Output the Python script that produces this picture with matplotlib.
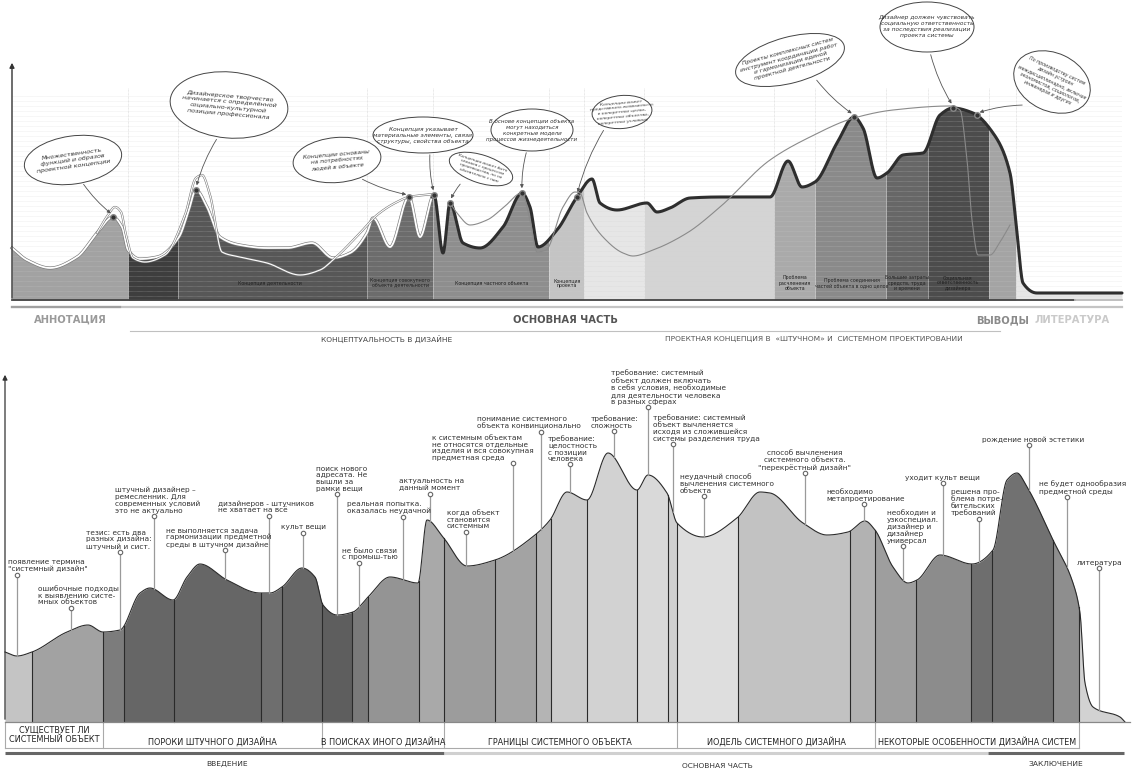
import matplotlib.pyplot as plt
import numpy as np
from matplotlib.patches import Ellipse

plt.rcParams['font.family'] = ['DejaVu Sans']

# ---------------- upper chart: profile (x, height above base line) ----------------
top_x = [12, 27, 50, 77, 97, 113, 122, 128, 140, 157, 179, 188, 196, 207, 220, 240, 267, 287, 312,
         333, 350, 367, 373, 390, 409, 420, 434, 443, 450, 463, 480, 503, 522, 530, 538, 557, 577,
         592, 600, 617, 647, 657, 670, 690, 720, 770, 788, 802, 815, 837, 854, 863, 877, 887, 903,
         923, 940, 953, 973, 993, 1010, 1017, 1023, 1037, 1060, 1122]
top_h = [52, 40, 32, 43, 67, 83, 73, 50, 41, 43, 63, 87, 110, 93, 63, 55, 52, 52, 57,
         42, 47, 67, 82, 53, 103, 63, 105, 47, 97, 57, 52, 73, 107, 93, 53, 70, 103,
         121, 97, 90, 97, 88, 92, 102, 103, 103, 139, 113, 118, 157, 183, 172, 122, 127, 145,
         147, 185, 192, 187, 167, 127, 67, 17, 7, 7, 7]

top_edges = [12, 128, 178, 367, 433, 549, 584, 644, 774, 815, 886, 928, 989, 1016, 1123]
top_colors = ['#a2a2a2', '#3e3e3e', '#575757', '#6c6c6c', '#8e8e8e', '#c4c4c4', '#e6e6e6',
              '#d4d4d4', '#aaaaaa', '#8a8a8a', '#676767', '#4c4c4c', '#a4a4a4', '#e6e6e6']

top_band_labels = ['Концепция деятельности', 'Концепция совокупного\nобъекта деятельности',
                   'Концепция частного объекта', 'Концепция\nпроекта', 'Проблема\nрасчленения\nобъекта',
                   'Проблема соединения\nчастей объекта в одно целое', 'Большие затраты\nсредств, труда\nи времени',
                   'Социальная\nответственность\nдизайнера']
top_band_label_x = [270, 400, 492, 567, 795, 852, 907, 958]

# thin guide curves
guide1_x = [97, 108, 115, 121, 126, 133, 145, 165, 185, 196, 202, 210, 222, 240, 267, 300, 320, 333,
            360, 377, 395, 409, 434]
guide1_h = [67, 85, 93, 88, 65, 42, 38, 45, 85, 122, 125, 105, 48, 43, 37, 25, 30, 40,
            67, 85, 97, 103, 106]
guide2_x = [450, 457, 470, 487, 503, 522, 530, 537, 546, 563, 575, 580, 587, 603, 623, 633, 653,
            687, 720, 770, 810, 854, 893, 950, 960, 967, 972, 978, 990, 1000, 1010]
guide2_h = [97, 87, 75, 80, 92, 107, 80, 48, 50, 93, 108, 107, 87, 63, 47, 44, 50,
            67, 93, 140, 163, 182, 190, 194, 190, 140, 80, 45, 45, 58, 75]

# speech bubbles
bubble_text = ['Множественность\nфункций и образов\nпроектной концепции',
               'Дизайнерское творчество\nначинается с определённой\nсоциально-культурной\nпозиции профессионала',
               'Концепции основаны\nна потребностях\nлюдей в объекте',
               'Концепция указывает\nматериальные элементы, связи,\nструктуры, свойства объекта',
               'Концепция может быть\nсвязана с процессом\nпроизводства, но не\nобязательно с ним',
               'В основе концепции объекта\nмогут находиться\nконкретные модели\nпроцессов жизнедеятельности',
               'Концепция может\nпредставлять возможность\nв конкретных целях,\nконкретных объектах,\nконкретных условиях',
               'Проекты комплексных систем\nинструмент координации работ\nи гармонизации единой\nпроектной деятельности',
               'Дизайнер должен чувствовать\nсоциальную ответственность\nза последствия реализации\nпроекта системы',
               'По производству систем\nдизайн устроен\nмеждисциплинарно, включая\nэкономистов, социологов,\nинженеров и других']
bubble_x = [73, 229, 337, 423, 481, 532, 622, 790, 927, 1052]
bubble_y = [140, 195, 140, 165, 131, 170, 188, 240, 273, 218]
bubble_w = [98, 118, 88, 100, 66, 82, 60, 112, 94, 80]
bubble_ht = [48, 66, 45, 36, 28, 42, 33, 46, 50, 58]
bubble_rot = [8, -5, 5, 0, -18, 0, 5, 15, 0, -25]
bubble_fs = [4.6, 4.6, 4.2, 4.2, 3.0, 4.0, 3.2, 4.2, 4.2, 3.4]
leader_x0 = [82, 218, 360, 430, 462, 527, 605, 815, 930, 1025]
leader_y0 = [118, 163, 122, 148, 118, 150, 172, 222, 248, 195]
marker_x = [113, 196, 409, 434, 450, 522, 577, 854, 953, 977]

# ---------------- lower chart ----------------
bot_x = [5, 17, 32, 67, 88, 103, 120, 140, 150, 173, 187, 200, 227, 260, 270, 282, 302, 315, 323,
         337, 353, 368, 390, 418, 427, 443, 467, 495, 535, 550, 567, 587, 608, 637, 648, 667, 677,
         703, 737, 760, 770, 803, 827, 848, 865, 875, 893, 908, 917, 940, 972, 993, 1007, 1017,
         1027, 1053, 1073, 1080, 1085, 1093, 1120, 1125]
bot_h = [70, 66, 70, 90, 97, 90, 92, 129, 134, 122, 145, 158, 142, 129, 129, 135, 154, 145, 117,
         107, 110, 125, 145, 139, 202, 185, 156, 162, 187, 202, 230, 222, 269, 232, 247, 229, 199,
         185, 204, 230, 229, 199, 187, 190, 201, 192, 155, 139, 142, 167, 158, 172, 242, 249,
         235, 182, 139, 109, 39, 15, 5, 0]

bot_edges = [5, 32, 103, 124, 174, 261, 282, 322, 352, 368, 419, 444, 495, 536, 551, 587, 637, 668,
             677, 738, 850, 875, 916, 971, 992, 1053, 1079, 1125]
bot_colors = ['#c4c4c4', '#a2a2a2', '#7c7c7c', '#666666', '#666666', '#6e6e6e', '#666666', '#5e5e5e',
              '#7a7a7a', '#949494', '#a9a9a9', '#9c9c9c', '#a3a3a3', '#b4b4b4', '#cbcbcb', '#d2d2d2',
              '#d9d9d9', '#d0d0d0', '#dedede', '#c2c2c2', '#b2b2b2', '#9e9e9e', '#8c8c8c', '#6e6e6e',
              '#717171', '#8e8e8e', '#d2d2d2']

note_text = ['появление термина\n"системный дизайн"',
             'ошибочные подходы\nк выявлению систе-\nмных объектов',
             'тезис: есть два\nразных дизайна:\nштучный и сист.',
             'штучный дизайнер –\nремесленник. Для\nсовременных условий\nэто не актуально',
             'не выполняется задача\nгармонизации предметной\nсреды в штучном дизайне',
             'дизайнеров - штучников\nне хватает на всё',
             'культ вещи',
             'поиск нового\nадресата. Не\nвышли за\nрамки вещи',
             'реальная попытка.\nоказалась неудачной',
             'не было связи\nс промыш-тью',
             'актуальность на\nданный момент',
             'когда объект\nстановится\nсистемным',
             'к системным объектам\nне относятся отдельные\nизделия и вся совокупная\nпредметная среда',
             'понимание системного\nобъекта конвинционально',
             'требование:\nцелостность\nс позиции\nчеловека',
             'требование:\nсложность',
             'требование: системный\nобъект должен включать\nв себя условия, необходимые\nдля деятельности человека\nв разных сферах',
             'требование: системный\nобъект вычленяется\nисходя из сложившейся\nсистемы разделения труда',
             'неудачный способ\nвычленения системного\nобъекта',
             'способ вычленения\nсистемного объекта.\n"перекрёстный дизайн"',
             'необходимо\nметапроетирование',
             'необходин и\nузкоспециал.\nдизайнер и\nдизайнер\nуниверсал',
             'уходит культ вещи',
             'решена про-\nблема потре-\nбительских\nтребований',
             'рождение новой эстетики',
             'не будет однообразия\nпредметной среды',
             'литература']
note_x = [17, 71, 120, 154, 225, 269, 303, 337, 403, 359, 430, 466, 513, 541, 570, 614, 648, 673,
          704, 805, 864, 903, 943, 979, 1029, 1067, 1099]
note_h = [147, 114, 170, 206, 172, 206, 189, 228, 205, 159, 228, 190, 259, 290, 258, 291, 315, 278,
          226, 249, 218, 176, 239, 203, 277, 225, 154]
note_label_x = [8, 38, 86, 115, 166, 218, 281, 316, 347, 342, 399, 447, 432, 477, 548, 591, 611,
                653, 680, 805, 826, 887, 905, 951, 982, 1039, 1077]

section_labels = ['СУЩЕСТВУЕТ ЛИ\nСИСТЕМНЫЙ ОБЪЕКТ', 'ПОРОКИ ШТУЧНОГО ДИЗАЙНА', 'В ПОИСКАХ ИНОГО ДИЗАЙНА',
                  'ГРАНИЦЫ СИСТЕМНОГО ОБЪЕКТА', 'ИОДЕЛЬ СИСТЕМНОГО ДИЗАЙНА',
                  'НЕКОТОРЫЕ ОСОБЕННОСТИ ДИЗАЙНА СИСТЕМ']
section_edges = [5, 103, 322, 444, 677, 875, 1079]
section_label_x = [54, 212, 383, 560, 776, 977]


def pchip(x, y, xs):
    x = np.asarray(x, float)
    y = np.asarray(y, float)
    hk = np.diff(x)
    d = np.diff(y) / hk
    m = np.zeros_like(y)
    for k in range(1, len(x) - 1):
        if d[k - 1] * d[k] > 0:
            w1 = 2 * hk[k] + hk[k - 1]
            w2 = hk[k] + 2 * hk[k - 1]
            m[k] = (w1 + w2) / (w1 / d[k - 1] + w2 / d[k])
    m[0], m[-1] = d[0], d[-1]
    i = np.clip(np.searchsorted(x, xs) - 1, 0, len(x) - 2)
    t = (xs - x[i]) / hk[i]
    return ((2 * t**3 - 3 * t**2 + 1) * y[i] + (t**3 - 2 * t**2 + t) * hk[i] * m[i]
            + (-2 * t**3 + 3 * t**2) * y[i + 1] + (t**3 - t**2) * hk[i] * m[i + 1])


fig = plt.figure(figsize=(11.34, 7.69), dpi=100)
ax1 = fig.add_axes([0, 1 - 345 / 769, 1, 345 / 769])
ax2 = fig.add_axes([0, 0, 1, 424 / 769])
ax1.set_xlim(0, 1134)
ax1.set_ylim(-45, 300)
ax2.set_xlim(0, 1134)
ax2.set_ylim(-47, 377)
for a in (ax1, ax2):
    a.axis('off')

# ===================== upper chart =====================
xs = np.linspace(top_x[0], top_x[-1], 3000)
ys = pchip(top_x, top_h, xs)
for i, c in enumerate(top_colors):
    m = (xs >= top_edges[i]) & (xs <= top_edges[i + 1])
    ax1.fill_between(xs[m], 0, ys[m], color=c, lw=0, zorder=2)

# notebook-like ruling
for yy in np.arange(4, 205, 5):
    ax1.plot([12, 1122], [yy, yy], color='#cfcfcf', lw=0.4, ls=(0, (1, 1)), alpha=0.6, zorder=3)
for xv in top_edges[1:-1]:
    ax1.plot([xv, xv], [0, 212], color='#d5d5d5', lw=0.5, ls=(0, (1, 1)), zorder=1)

for lab, lx in zip(top_band_labels, top_band_label_x):
    ax1.text(lx, 17, lab, ha='center', va='center', fontsize=3.4, color='#222', zorder=6,
             linespacing=1.1)

# outline: thin white on the left, thick dark afterwards
left = xs <= 434
ax1.plot(xs[left], ys[left], color='#777', lw=2.2, zorder=4)
ax1.plot(xs[left], ys[left], color='white', lw=1.3, zorder=4)
ax1.plot(xs[xs >= 432], ys[xs >= 432], color='#2e2e2e', lw=2.2, zorder=5, solid_capstyle='round')

g1x = np.linspace(guide1_x[0], guide1_x[-1], 600)
ax1.plot(g1x, pchip(guide1_x, guide1_h, g1x), color='#777', lw=1.6, zorder=4)
ax1.plot(g1x, pchip(guide1_x, guide1_h, g1x), color='white', lw=0.8, zorder=4)
g2x = np.linspace(guide2_x[0], guide2_x[-1], 1200)
ax1.plot(g2x, pchip(guide2_x, guide2_h, g2x), color='#8a8a8a', lw=0.8, zorder=6)

# base line and axis arrow
ax1.plot([12, 1075], [0, 0], color='#444', lw=1.3, zorder=6)
ax1.plot([1075, 1122], [0, 0], color='#bbb', lw=1.3, zorder=6)
ax1.annotate('', xy=(12, 240), xytext=(12, -1),
             arrowprops=dict(arrowstyle='-|>', color='#333', lw=1.0, mutation_scale=7), zorder=7)

# bubbles with leaders
for i, t in enumerate(bubble_text):
    e = Ellipse((bubble_x[i], bubble_y[i]), bubble_w[i], bubble_ht[i], angle=bubble_rot[i],
                facecolor='white', edgecolor='#444', lw=0.7, zorder=8)
    ax1.add_patch(e)
    ax1.text(bubble_x[i], bubble_y[i], t, ha='center', va='center', fontsize=bubble_fs[i],
             style='italic', color='#333', rotation=bubble_rot[i], linespacing=1.25, zorder=9)
    mh = float(pchip(top_x, top_h, np.array([marker_x[i]]))[0])
    ax1.annotate('', xy=(marker_x[i], mh + 2), xytext=(leader_x0[i], leader_y0[i]),
                 arrowprops=dict(arrowstyle='-|>', color='#555', lw=0.6, mutation_scale=5,
                                 connectionstyle='arc3,rad=0.08'), zorder=8)
    ax1.plot(marker_x[i], mh, 'o', ms=4, color='#333', mec='#888', zorder=9)

# headers under the upper chart
ax1.plot([12, 1122], [-7, -7], color='#c4c4c4', lw=1.6, zorder=2)
ax1.plot([12, 120], [-7, -7], color='#a0a0a0', lw=1.6, zorder=2)
ax1.plot([130, 1000], [-31, -31], color='#c0c0c0', lw=0.8)
ax1.text(70, -20, 'АННОТАЦИЯ', ha='center', va='center', fontsize=7.2, weight='bold', color='#9a9a9a')
ax1.text(565, -20, 'ОСНОВНАЯ ЧАСТЬ', ha='center', va='center', fontsize=7.2, weight='bold', color='#555')
ax1.text(1003, -20, 'ВЫВОДЫ', ha='center', va='center', fontsize=7.2, weight='bold', color='#8a8a8a')
ax1.text(1072, -20, 'ЛИТЕРАТУРА', ha='center', va='center', fontsize=7.2, weight='bold', color='#cacaca')
ax1.text(387, -39, 'КОНЦЕПТУАЛЬНОСТЬ В ДИЗАЙНЕ', ha='center', va='center', fontsize=5.4, color='#444')
ax1.text(814, -39, 'ПРОЕКТНАЯ КОНЦЕПЦИЯ В  «ШТУЧНОМ» И  СИСТЕМНОМ ПРОЕКТИРОВАНИИ', ha='center',
         va='center', fontsize=5.4, color='#555')

# ===================== lower chart =====================
bx = np.linspace(bot_x[0], bot_x[-1], 3000)
by = pchip(bot_x, bot_h, bx)
for i, c in enumerate(bot_colors):
    m = (bx >= bot_edges[i]) & (bx <= bot_edges[i + 1])
    ax2.fill_between(bx[m], 0, by[m], color=c, lw=0, zorder=2)
for xv in bot_edges[1:-1]:
    hv = float(pchip(bot_x, bot_h, np.array([xv]))[0])
    ax2.plot([xv, xv], [0, hv], color='#2a2a2a', lw=0.8, zorder=3)
ax2.plot(bx, by, color='#2a2a2a', lw=0.8, zorder=4)

for t, nx, nh, lx in zip(note_text, note_x, note_h, note_label_x):
    ch = float(pchip(bot_x, bot_h, np.array([nx]))[0])
    ax2.plot([nx, nx], [ch, nh], color='#9a9a9a', lw=0.9, zorder=5)
    ax2.plot(nx, nh, 'o', ms=3.2, mfc='white', mec='#666', mew=0.8, zorder=6)
    ha = 'center' if lx == nx else 'left'
    ax2.text(lx, nh + 2.5, t, ha=ha, va='bottom', fontsize=5.3, color='#333', linespacing=1.12,
             zorder=6)

ax2.annotate('', xy=(5, 350), xytext=(5, 0),
             arrowprops=dict(arrowstyle='-|>', color='#333', lw=0.9, mutation_scale=7), zorder=7)
ax2.plot([5, 1130], [0, 0], color='#888', lw=0.9, zorder=5)

# section boxes
ax2.plot([5, 1079], [-26, -26], color='#aaa', lw=0.8)
for xv in section_edges:
    ax2.plot([xv, xv], [0, -26], color='#aaa', lw=0.8)
for lab, lx in zip(section_labels, section_label_x):
    yy = -13 if '\n' in lab else -20
    ax2.text(lx, yy, lab, ha='center', va='center', fontsize=5.9, color='#222', linespacing=1.1)

ax2.plot([5, 444], [-31, -31], color='#666', lw=2.2, solid_capstyle='butt')
ax2.plot([444, 988], [-31, -31], color='#d0d0d0', lw=2.2, solid_capstyle='butt')
ax2.plot([988, 1124], [-31, -31], color='#666', lw=2.2, solid_capstyle='butt')
ax2.text(227, -42, 'ВВЕДЕНИЕ', ha='center', va='center', fontsize=5.4, color='#333')
ax2.text(717, -44, 'ОСНОВНАЯ ЧАСТЬ', ha='center', va='center', fontsize=5.4, color='#333')
ax2.text(1056, -42, 'ЗАКЛЮЧЕНИЕ', ha='center', va='center', fontsize=5.4, color='#333')

fig.savefig('out.png', dpi=100)
